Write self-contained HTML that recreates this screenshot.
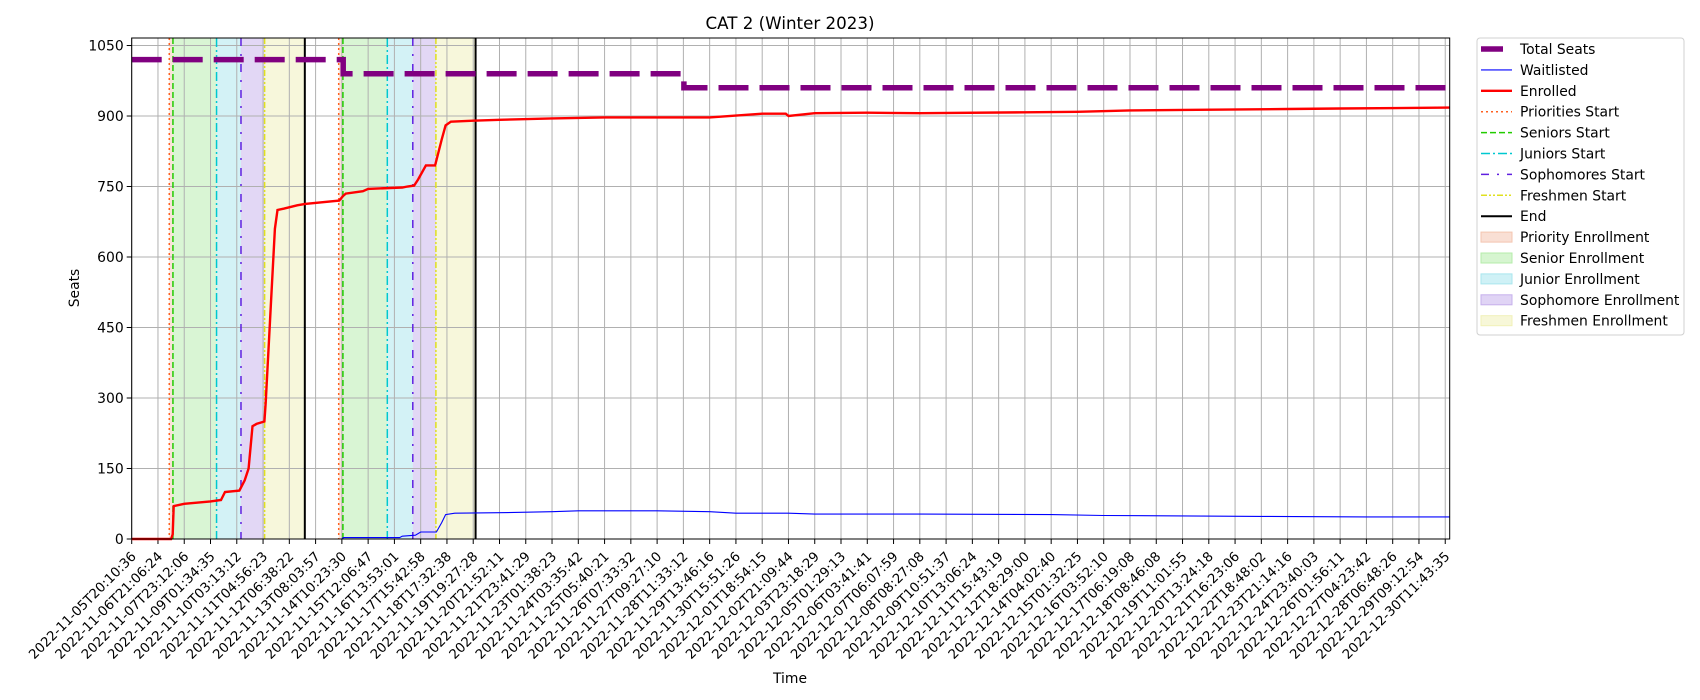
<!DOCTYPE html>
<html><head><meta charset="utf-8"><style>
body{margin:0;background:#fff;}
svg{display:block;font-family:"DejaVu Sans","Liberation Sans",sans-serif;}
</style></head><body>
<svg id="chart" width="1700" height="700">
<text x="790" y="29" text-anchor="middle" font-size="16.7">CAT 2 (Winter 2023)</text>
<text x="790" y="683" text-anchor="middle" font-size="13.9">Time</text>
<text transform="translate(79,288) rotate(-90)" text-anchor="middle" font-size="13.9">Seats</text>
</svg>
<script>
const tickLabels=["2022-11-05T20:10:36","2022-11-06T21:06:24","2022-11-07T23:12:06","2022-11-09T01:34:35","2022-11-10T03:13:12","2022-11-11T04:56:23","2022-11-12T06:38:22","2022-11-13T08:03:57","2022-11-14T10:23:30","2022-11-15T12:06:47","2022-11-16T13:53:01","2022-11-17T15:42:58","2022-11-18T17:32:38","2022-11-19T19:27:28","2022-11-20T21:52:11","2022-11-21T23:41:29","2022-11-23T01:38:23","2022-11-24T03:35:42","2022-11-25T05:40:21","2022-11-26T07:33:32","2022-11-27T09:27:10","2022-11-28T11:33:12","2022-11-29T13:46:16","2022-11-30T15:51:26","2022-12-01T18:54:15","2022-12-02T21:09:44","2022-12-03T23:18:29","2022-12-05T01:29:13","2022-12-06T03:41:41","2022-12-07T06:07:59","2022-12-08T08:27:08","2022-12-09T10:51:37","2022-12-10T13:06:24","2022-12-11T15:43:19","2022-12-12T18:29:00","2022-12-14T04:02:40","2022-12-15T01:32:25","2022-12-16T03:52:10","2022-12-17T06:19:08","2022-12-18T08:46:08","2022-12-19T11:01:55","2022-12-20T13:24:18","2022-12-21T16:23:06","2022-12-22T18:48:02","2022-12-23T21:14:16","2022-12-24T23:40:03","2022-12-26T01:56:11","2022-12-27T04:23:42","2022-12-28T06:48:26","2022-12-29T09:12:54","2022-12-30T11:43:35"];
const yTicks=[0,150,300,450,600,750,900,1050];
const totalX=[0,8.05,8.05,21.02,21.02,50.17];
const totalY=[1020,1020,990,990,960,960];
const enrolledX=[0,1.5,1.56,1.6,2,3,3.4,3.55,4.1,4.3,4.45,4.6,4.75,5.05,5.1,5.3,5.45,5.55,5.8,6.3,6.6,7.9,8.05,8.15,8.8,9.0,10.3,10.5,10.75,10.9,11.2,11.55,11.8,11.95,12.15,13,14,16,18,22,24,24.9,25,26,28,30,34,36,38,40,44,46,50.17];
const enrolledY=[0,0,10,70,75,80,83,100,103,125,150,240,245,250,290,500,660,700,703,710,713,720,730,735,740,745,748,750,752,765,795,795,850,880,888,890,892,895,897,897,905,905,900,906,907,906,908,909,912,913,915,916,918];
const waitX=[0,8.0,8.05,10.2,10.3,10.8,11.0,11.6,11.8,11.95,12.3,14,16,17,20,22,23,25,26,30,35,37,43,47,50.17];
const waitY=[0,0,3,3,6,8,15,15,35,52,55,56,58,60,60,58,55,55,53,53,52,50,48,47,47];
const eventNames=["priorities","seniors","juniors","sophomores","freshmen","end"];
const round1=[1.43,1.57,3.23,4.16,5.06,6.59];
const round2=[7.88,8.04,9.73,10.70,11.58,13.09];

const L=131.7,R=1449.7,T=38,B=539,XMAX=50.17,YMAX=1066;
const sx=v=>L+v/XMAX*(R-L), sy=v=>B-v/YMAX*(B-T);
const svg=document.getElementById('chart'),NS='http://www.w3.org/2000/svg';
function mk(tag,attrs,parent){const e=document.createElementNS(NS,tag);for(const k in attrs)e.setAttribute(k,attrs[k]);(parent||svg).appendChild(e);return e;}
const spanColors=["#f4c5b0","#b4ecaa","#a8e6ee","#c6b0ec","#f0f0b8"];
const spanNames=["priority-span","senior-span","junior-span","sophomore-span","freshmen-span"];
[round1,round2].forEach((r,ri)=>{for(let i=0;i<5;i++){const e=mk('rect',{x:sx(r[i]),y:T,width:sx(r[i+1])-sx(r[i]),height:B-T,fill:spanColors[i],'fill-opacity':0.5});

}});
tickLabels.forEach((t,i)=>{const x=sx(i);const g=mk('line',{x1:x,x2:x,y1:T,y2:B,stroke:'#b0b0b0','stroke-width':1});


mk('line',{x1:x,x2:x,y1:B,y2:B+5,stroke:'#000'});
const tx=mk('text',{transform:`translate(${x-1},${B+12}) rotate(-45)`,'text-anchor':'end','dominant-baseline':'hanging','font-size':'13.3'});tx.textContent=t;

});
yTicks.forEach(v=>{const y=sy(v);const g=mk('line',{x1:L,x2:R,y1:y,y2:y,stroke:'#b0b0b0','stroke-width':1});


mk('line',{x1:L-5,x2:L,y1:y,y2:y,stroke:'#000'});
const tx=mk('text',{x:L-8,y:y+5,'text-anchor':'end','font-size':'13.9'});tx.textContent=v;

});
const evStyle=[{c:'#ff6020',d:'2,3',w:1.5},{c:'#22cc00',d:'6,3',w:1.5},{c:'#00c8d0',d:'9,3,2,3',w:1.5},{c:'#6020e0',d:'8,8,2,8',w:1.5},{c:'#e0e020',d:'6,2,2,2,2,2',w:1.5},{c:'#000',d:'',w:2}];
[round1,round2].forEach((r,ri)=>r.forEach((v,i)=>{const e=mk('line',{x1:sx(v),x2:sx(v),y1:T,y2:B,stroke:evStyle[i].c,'stroke-width':evStyle[i].w,'stroke-dasharray':evStyle[i].d});

}));
function path(xs,ys){return xs.map((x,i)=>(i?'L':'M')+sx(x).toFixed(1)+','+sy(ys[i]).toFixed(1)).join('');}
const tl=mk('path',{d:path(totalX,totalY),fill:'none',stroke:'#800080','stroke-width':5.5,'stroke-dasharray':'30,11'});


const wl=mk('path',{d:path(waitX,waitY),fill:'none',stroke:'#0000ff','stroke-width':1.1});


const el=mk('path',{d:path(enrolledX,enrolledY),fill:'none',stroke:'#ff0000','stroke-width':2.4});


const fr=mk('rect',{x:L,y:T,width:R-L,height:B-T,fill:'none',stroke:'#000','stroke-width':1});


const lg=mk('g',{});


mk('rect',{x:1477,y:38,width:207,height:297,rx:3,fill:'#fff',stroke:'#d0d0d0'},lg);
const legendItems=[["Total Seats","line","#800080",5.5,""],["Waitlisted","line","#0000ff",1.1,""],["Enrolled","line","#ff0000",2.4,""],["Priorities Start","line","#ff6020",1.5,"2,3"],["Seniors Start","line","#22cc00",1.5,"6,3"],["Juniors Start","line","#00c8d0",1.5,"9,3,2,3"],["Sophomores Start","line","#6020e0",1.5,"8,8,2,8"],["Freshmen Start","line","#e0e020",1.5,"6,2,2,2,2,2"],["End","line","#000",2,""],["Priority Enrollment","box","#f4c5b0"],["Senior Enrollment","box","#b4ecaa"],["Junior Enrollment","box","#a8e6ee"],["Sophomore Enrollment","box","#c6b0ec"],["Freshmen Enrollment","box","#f0f0b8"]];
legendItems.forEach((it,i)=>{const y=49+i*20.9;const g=mk('g',{},lg);


if(it[1]==='line'){mk('line',{x1:1481,x2:1512,y1:y,y2:y,stroke:it[2],'stroke-width':it[3],'stroke-dasharray':it[0]==='Total Seats'?'22,10':it[4]},g);}
else mk('rect',{x:1481,y:y-5,width:31,height:10,fill:it[2],'fill-opacity':0.55,stroke:it[2]},g);
const t=mk('text',{x:1520,y:y+5,'font-size':'13.9'},g);t.textContent=it[0];});
</script>
</body></html>
